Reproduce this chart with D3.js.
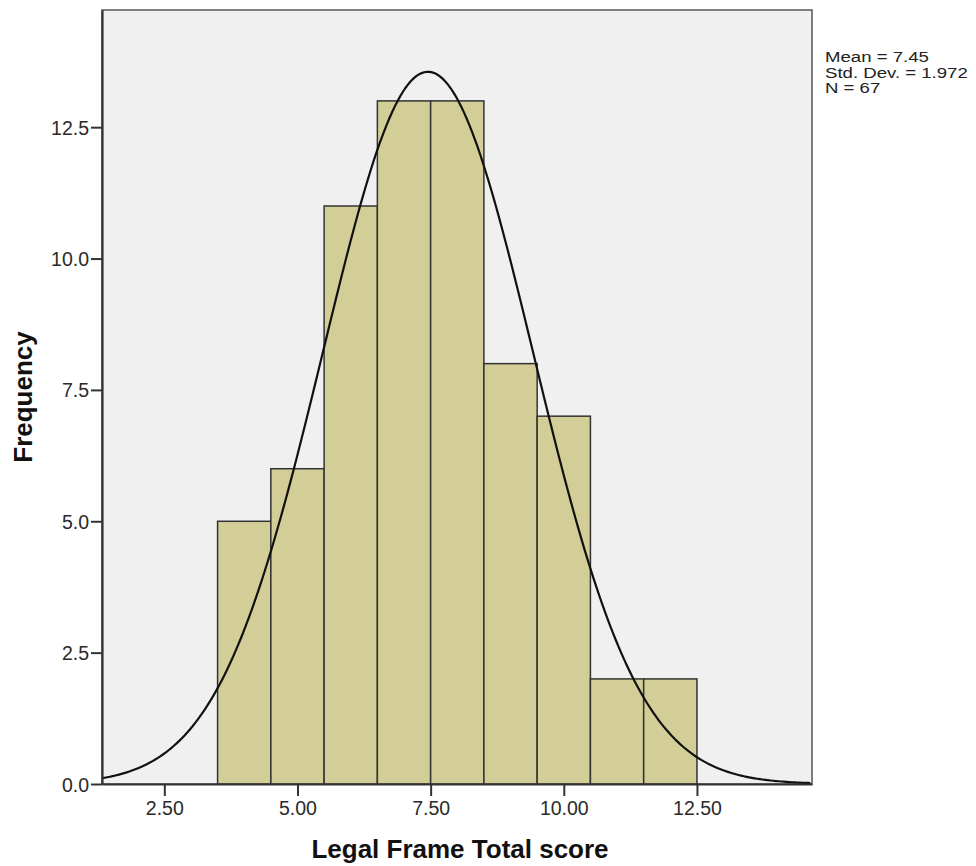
<!DOCTYPE html>
<html>
<head>
<meta charset="utf-8">
<script src="https://cdn.jsdelivr.net/npm/d3@7"></script>
<style>
  body { margin: 0; background: #fff; }
  svg { display: block; font-family: "Liberation Sans", Arial, sans-serif; }
</style>
</head>
<body>
<svg id="chart" width="976" height="866"></svg>
<script>
// histogram bins (lower edge, upper edge) and counts
var binStart = [3.5, 4.5, 5.5, 6.5, 7.5, 8.5, 9.5, 10.5, 11.5];
var binEnd   = [4.5, 5.5, 6.5, 7.5, 8.5, 9.5, 10.5, 11.5, 12.5];
var counts   = [5, 6, 11, 13, 13, 8, 7, 2, 2];
var xTicks = [2.5, 5, 7.5, 10, 12.5];
var xTickLabels = ["2.50", "5.00", "7.50", "10.00", "12.50"];
var yTicks = [0, 2.5, 5, 7.5, 10, 12.5];
var yTickLabels = ["0.0", "2.5", "5.0", "7.5", "10.0", "12.5"];
var statLabels = ["Mean = 7.45", "Std. Dev. = 1.972", "N = 67"];
var mean = 7.45, sd = 1.972, n = 67;

var plotL = 102, plotR = 812, plotT = 10, plotB = 784;
var svg = d3.select('#chart');

var x = d3.scaleLinear().domain([1.33, 14.66]).range([plotL, plotR]);
var y = d3.scaleLinear().domain([0, 14.73]).range([plotB, plotT]);

// plot background + frame
svg.append('rect')
  .attr('x', plotL).attr('y', plotT)
  .attr('width', plotR - plotL).attr('height', plotB - plotT)
  .attr('fill', '#f0f0f0')
  .attr('stroke', '#555').attr('stroke-width', 1.5);

svg.append('defs').append('clipPath').attr('id', 'clip')
  .append('rect')
  .attr('x', plotL).attr('y', plotT)
  .attr('width', plotR - plotL).attr('height', plotB - plotT);

// bars
svg.append('g').selectAll('rect')
  .data(counts)
  .enter().append('rect')
    .attr('x', function(d, i) { return x(binStart[i]); })
    .attr('y', function(d) { return y(d); })
    .attr('width', function(d, i) { return x(binEnd[i]) - x(binStart[i]); })
    .attr('height', function(d) { return y(0) - y(d); })
    .attr('fill', '#d3ce97')
    .attr('stroke', '#333')
    .attr('stroke-width', 1.5);

// normal curve from the stats shown in the legend
var binW = binEnd[0] - binStart[0];
var xs = d3.range(x.domain()[0], x.domain()[1] + 0.01, 0.05);
var curve = d3.line()
  .x(function(v) { return x(v); })
  .y(function(v) {
    var z = (v - mean) / sd;
    return y(n * binW * Math.exp(-0.5 * z * z) / (sd * Math.sqrt(2 * Math.PI)));
  });
svg.append('path')
  .attr('clip-path', 'url(#clip)')
  .attr('d', curve(xs))
  .attr('fill', 'none')
  .attr('stroke', '#111')
  .attr('stroke-width', 2.2);

// axes
var xAxis = d3.axisBottom(x).tickValues(xTicks)
  .tickFormat(function(d, i) { return xTickLabels[i]; })
  .tickSizeInner(12).tickSizeOuter(0).tickPadding(5);
var gx = svg.append('g').attr('transform', 'translate(0,' + plotB + ')').call(xAxis);

var yAxis = d3.axisLeft(y).tickValues(yTicks)
  .tickFormat(function(d, i) { return yTickLabels[i]; })
  .tickSizeInner(11).tickSizeOuter(0).tickPadding(2);
var gy = svg.append('g').attr('transform', 'translate(' + plotL + ',0)').call(yAxis);

[gx, gy].forEach(function(g) {
  g.select('.domain').attr('stroke', '#333').attr('stroke-width', 2.2);
  g.selectAll('.tick line').attr('stroke', '#333').attr('stroke-width', 2);
  g.selectAll('.tick text')
    .attr('fill', '#2a2a2a')
    .style('font-size', '19.5px')
    .style('font-family', '"Liberation Sans", Arial, sans-serif');
});
gy.selectAll('.tick text').attr('dy', '0.36em');

// axis titles
svg.append('text')
  .attr('x', (plotL + plotR) / 2 + 3).attr('y', 858)
  .attr('text-anchor', 'middle')
  .style('font-size', '26px').style('font-weight', 'bold')
  .attr('fill', '#111')
  .text('Legal Frame Total score');

svg.append('text')
  .attr('transform', 'translate(32,397) rotate(-90)')
  .attr('text-anchor', 'middle')
  .style('font-size', '26px').style('font-weight', 'bold')
  .attr('fill', '#111')
  .text('Frequency');

// stats box
var stats = svg.append('g').attr('transform', 'translate(825,0) scale(1.2,1)');
stats.selectAll('text')
  .data(statLabels)
  .enter().append('text')
    .attr('x', 0)
    .attr('y', function(d, i) { return 62.5 + i * 15.5; })
    .style('font-size', '15.5px')
    .attr('fill', '#222')
    .text(function(d) { return d; });
</script>
</body>
</html>
